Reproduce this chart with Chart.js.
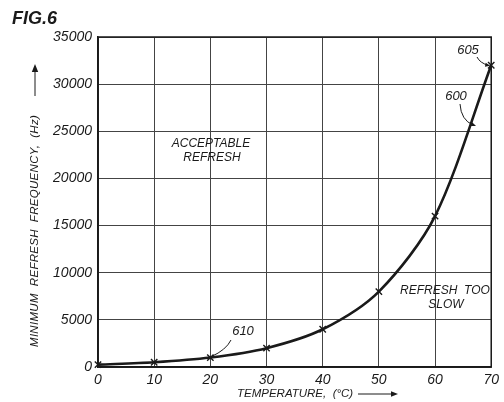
<!DOCTYPE html>
<html>
<head>
<meta charset="utf-8">
<script src="https://cdn.jsdelivr.net/npm/chart.js@4"></script>
<style>
html,body{margin:0;padding:0;background:#fff;}
#wrap{width:504px;height:402px;position:relative;}
</style>
</head>
<body>
<div id="wrap"><canvas id="c" width="504" height="402"></canvas></div>
<script>
// Data
const temperatures = [0, 10, 20, 30, 40, 50, 60, 70];
const minRefreshHz = [250, 500, 1000, 2000, 4000, 8000, 16000, 32000];
const xTicks = [0, 10, 20, 30, 40, 50, 60, 70];
const yTicks = [0, 5000, 10000, 15000, 20000, 25000, 30000, 35000];

const FONT = '"Liberation Sans", Arial, sans-serif';
const INK = '#1a1a1a';

function arrowHead(ctx, x, y, angle, size) {
  ctx.save();
  ctx.translate(x, y);
  ctx.rotate(angle);
  ctx.beginPath();
  ctx.moveTo(0, 0);
  ctx.lineTo(-size, -size * 0.4);
  ctx.lineTo(-size, size * 0.4);
  ctx.closePath();
  ctx.fill();
  ctx.restore();
}

const decor = {
  id: 'decor',
  afterDraw(chart) {
    const ctx = chart.ctx;
    const xs = chart.scales.x, ys = chart.scales.y;
    const a = chart.chartArea;
    ctx.save();
    // frame
    ctx.strokeStyle = INK;
    ctx.lineWidth = 1.5;
    ctx.strokeRect(a.left, a.top, a.right - a.left, a.bottom - a.top);

    ctx.fillStyle = INK;
    ctx.strokeStyle = INK;
    ctx.textAlign = 'center';
    ctx.textBaseline = 'middle';

    // FIG.6
    ctx.font = 'italic bold 18px ' + FONT;
    ctx.textAlign = 'left';
    ctx.fillText('FIG.6', 12, 19);

    // region labels
    ctx.textAlign = 'center';
    ctx.font = 'italic 12px ' + FONT;
    ctx.fillText('ACCEPTABLE', 211, 144);
    ctx.fillText('REFRESH', 212, 158);
    ctx.fillText('REFRESH  TOO', 445, 291);
    ctx.fillText('SLOW', 446, 305);

    // reference numerals
    ctx.font = 'italic 13px ' + FONT;
    ctx.fillText('605', 468, 50);
    ctx.fillText('600', 456, 96);
    ctx.fillText('610', 243, 331);

    ctx.lineWidth = 1;
    // 605 leader -> point at 70
    const p70x = xs.getPixelForValue(temperatures[7]);
    const p70y = ys.getPixelForValue(minRefreshHz[7]);
    ctx.beginPath();
    ctx.moveTo(477, 57);
    ctx.quadraticCurveTo(480, 63, p70x - 3, p70y);
    ctx.stroke();
    arrowHead(ctx, p70x - 1, p70y + 0.5, 0.2, 5);
    // 600 leader -> curve
    ctx.beginPath();
    ctx.moveTo(460, 104);
    ctx.quadraticCurveTo(461, 120, 473, 125);
    ctx.stroke();
    arrowHead(ctx, 476, 126, 0.4, 5);
    // 610 leader -> point at 20
    const p20x = xs.getPixelForValue(temperatures[2]);
    const p20y = ys.getPixelForValue(minRefreshHz[2]);
    ctx.beginPath();
    ctx.moveTo(231, 340);
    ctx.quadraticCurveTo(226, 350, p20x + 1, p20y - 1);
    ctx.stroke();

    // x axis title
    ctx.font = 'italic 11.5px ' + FONT;
    ctx.textAlign = 'left';
    ctx.fillText('TEMPERATURE,  (\u00B0C)', 237, 394);
    ctx.beginPath();
    ctx.moveTo(358, 394);
    ctx.lineTo(392, 394);
    ctx.stroke();
    arrowHead(ctx, 398, 394, 0, 7);

    // y axis title
    ctx.save();
    ctx.translate(35, 347);
    ctx.rotate(-Math.PI / 2);
    ctx.textAlign = 'left';
    ctx.font = 'italic 11.5px ' + FONT;
    ctx.letterSpacing = '0.3px';
    ctx.fillText('MINIMUM  REFRESH  FREQUENCY,  (Hz)', 0, 0);
    ctx.restore();
    ctx.beginPath();
    ctx.moveTo(35, 96);
    ctx.lineTo(35, 72);
    ctx.stroke();
    arrowHead(ctx, 35, 64, -Math.PI / 2, 8);

    ctx.restore();
  }
};

new Chart(document.getElementById('c'), {
  type: 'line',
  data: {
    datasets: [{
      data: temperatures.map((t, i) => ({x: t, y: minRefreshHz[i]})),
      borderColor: INK,
      borderWidth: 2.6,
      tension: 0.3,
      pointStyle: 'crossRot',
      pointRadius: 4.5,
      pointBorderWidth: 1.4,
      pointBorderColor: INK,
      fill: false,
      clip: 6
    }]
  },
  options: {
    responsive: false,
    animation: false,
    devicePixelRatio: 1,
    layout: {padding: {left: 0, top: 37, right: 7, bottom: 0}},
    plugins: {legend: {display: false}, tooltip: {enabled: false}},
    scales: {
      x: {
        type: 'linear', min: 0, max: 70,
        afterBuildTicks: s => { s.ticks = xTicks.map(v => ({value: v})); },
        afterFit: s => { s.height = 35; },
        grid: {color: '#444', lineWidth: 1, drawTicks: false},
        border: {color: INK, width: 1.5},
        ticks: {color: INK, padding: 5, maxRotation: 0, font: {family: FONT, size: 14, style: 'italic'}}
      },
      y: {
        min: 0, max: 35000,
        afterBuildTicks: s => { s.ticks = yTicks.map(v => ({value: v})); },
        afterFit: s => { s.width = 98; },
        grid: {color: '#444', lineWidth: 1, drawTicks: false},
        border: {color: INK, width: 1.5},
        ticks: {color: INK, padding: 6, font: {family: FONT, size: 14, style: 'italic'}, callback: v => String(v)}
      }
    }
  },
  plugins: [decor]
});
</script>
</body>
</html>
